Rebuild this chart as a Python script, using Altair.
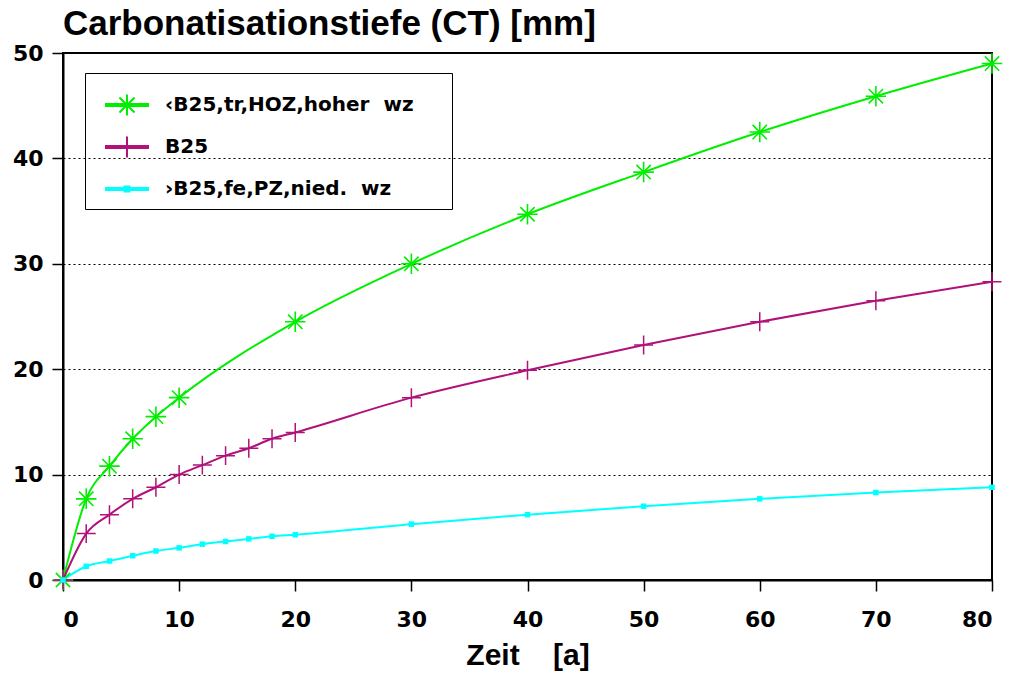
import altair as alt
import pandas as pd

# --- data ---
series = ["‹B25,tr,HOZ,hoher\u00a0\u00a0wz", "B25", "›B25,fe,PZ,nied.\u00a0\u00a0wz"]
colors = ["#00ee00", "#b0127a", "#00ffff"]

years_hoz = [0, 2, 4, 6, 8, 10, 20, 30, 40, 50, 60, 70, 80]
ct_hoz = [0, 7.7, 10.8, 13.4, 15.5, 17.3, 24.5, 30.0, 34.7, 38.7, 42.5, 45.9, 49.0]

years_b25 = [0, 2, 4, 6, 8, 10, 12, 14, 16, 18, 20, 30, 40, 50, 60, 70, 80]
ct_b25 = [0, 4.4, 6.2, 7.7, 8.8, 10.0, 10.9, 11.8, 12.5, 13.4, 14.0, 17.3, 19.9, 22.3, 24.5, 26.5, 28.3]

years_pz = [0, 2, 4, 6, 8, 10, 12, 14, 16, 18, 20, 30, 40, 50, 60, 70, 80]
ct_pz = [0, 1.3, 1.8, 2.3, 2.75, 3.05, 3.4, 3.65, 3.9, 4.15, 4.3, 5.3, 6.2, 7.0, 7.7, 8.3, 8.8]

x_ticks = [0, 10, 20, 30, 40, 50, 60, 70, 80]
y_ticks = [0, 10, 20, 30, 40, 50]

rows = []
for name, xs, ys in [(series[0], years_hoz, ct_hoz), (series[1], years_b25, ct_b25), (series[2], years_pz, ct_pz)]:
    for a, b in zip(xs, ys):
        rows.append({"series": name, "t": a, "ct": b})
df = pd.DataFrame(rows)

FONT = "Liberation Sans"
TFONT = "DejaVu Sans"

x_enc = alt.X("t:Q", scale=alt.Scale(domain=[0, 80], nice=False, zero=False),
              axis=alt.Axis(values=x_ticks, title="Zeit\u00a0\u00a0\u00a0\u00a0[a]", grid=False,
                            tickSize=11, tickColor="black", tickWidth=1.5,
                            domainColor="black", domainWidth=2,
                            labelFont=TFONT, labelFontSize=22, labelFontWeight="bold", labelColor="black",
                            labelPadding=18, titleFont=FONT, titleFontSize=30, titleFontWeight="bold",
                            titleColor="black", titlePadding=10))
y_enc = alt.Y("ct:Q", scale=alt.Scale(domain=[0, 50], nice=False),
              axis=alt.Axis(values=y_ticks, title=None, grid=True, gridColor="black", gridDash=[2, 3],
                            gridWidth=1, tickSize=11, tickColor="black", tickWidth=1.5,
                            domainColor="black", domainWidth=2,
                            labelFont=TFONT, labelFontSize=22, labelFontWeight="bold", labelColor="black",
                            labelPadding=9))

color_scale = alt.Scale(domain=series, range=colors)

leg_paths = [
    "M-1,-0.05L1,-0.05L1,0.05L-1,0.05ZM0,-0.5L0,0.5M-0.36,-0.36L0.36,0.36M-0.36,0.36L0.36,-0.36",
    "M-1,-0.05L1,-0.05L1,0.05L-1,0.05ZM0,-0.5L0,0.5",
    "M-1,-0.05L1,-0.05L1,0.05L-1,0.05ZM-0.12,-0.12L0.12,-0.12L0.12,0.12L-0.12,0.12Z",
]

legend = alt.Legend(title=None, orient="none", legendX=22, legendY=20, padding=10,
                    strokeColor="black", symbolOffset=10, labelOffset=16, rowPadding=5,
                    symbolSize=1764, symbolStrokeWidth=2, symbolOpacity=1,
                    symbolFillColor="transparent",
                    labelFont="DejaVu Sans", labelFontSize=20, labelFontWeight="bold",
                    labelColor="black", labelLimit=600,
                    labelExpr="datum.label + '\u00a0\u00a0\u00a0\u00a0\u200b'")

color_enc = alt.Color("series:N", scale=color_scale, legend=legend)

base = alt.Chart(df)

lines = base.mark_line(strokeWidth=2, interpolate="monotone").encode(
    x=x_enc, y=y_enc, color=color_enc)

asterisk = "M-1,0L1,0M0,-1L0,1M-0.7,-0.7L0.7,0.7M-0.7,0.7L0.7,-0.7"
plus = "M-1,0L1,0M0,-1L0,1"

pts_hoz = base.transform_filter(alt.datum.series == series[0]).mark_point(
    shape=asterisk, size=420, filled=False, strokeWidth=1.6, opacity=1).encode(
    x="t:Q", y="ct:Q", color=color_enc)
pts_b25 = base.transform_filter(alt.datum.series == series[1]).mark_point(
    shape=plus, size=360, filled=False, strokeWidth=1.5, opacity=1).encode(
    x="t:Q", y="ct:Q", color=color_enc)
pts_pz = base.transform_filter(alt.datum.series == series[2]).mark_point(
    shape="square", size=30, filled=True, opacity=1).encode(
    x="t:Q", y="ct:Q", color=color_enc)

carrier = base.transform_filter("datum.t < 0").mark_point(filled=False, strokeWidth=2).encode(
    x="t:Q", y="ct:Q",
    color=color_enc,
    shape=alt.Shape("series:N", scale=alt.Scale(domain=series, range=leg_paths), legend=legend))

chart = alt.layer(lines, pts_hoz, pts_b25, pts_pz, carrier).properties(
    width=929, height=527,
    title=alt.TitleParams("Carbonatisationstiefe (CT) [mm]", anchor="start", frame="group", font=FONT,
                          fontSize=35, fontWeight="bold", color="black", offset=0),
    padding={"left": 63, "top": 53, "right": 24, "bottom": 95},
    autosize=alt.AutoSizeParams(type="none"),
    background="white",
).configure_view(stroke="black", strokeWidth=2)

chart.save("out.html", embed_options={"renderer": "svg", "actions": False})
